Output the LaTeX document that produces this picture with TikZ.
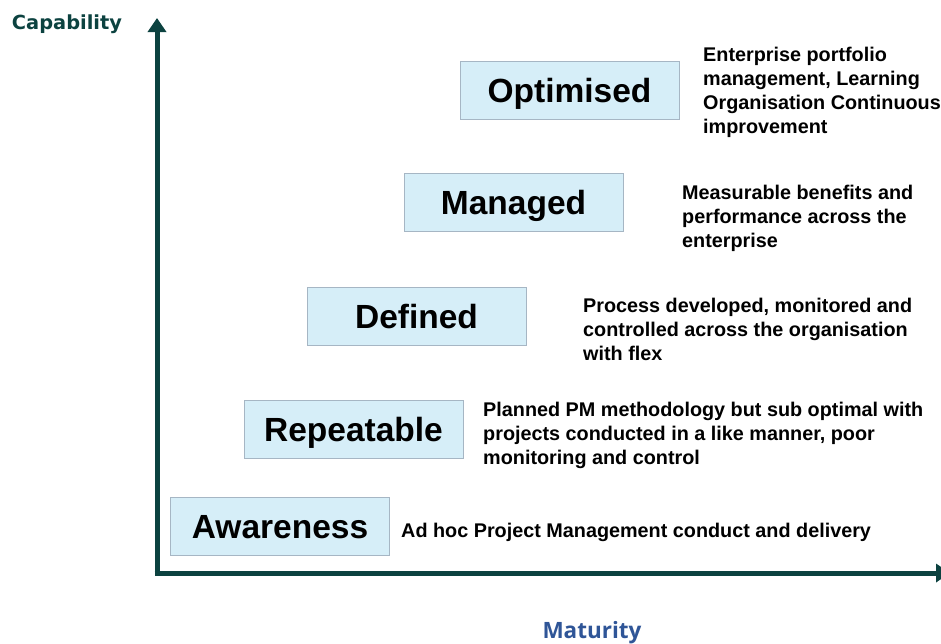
\documentclass[tikz,border=0pt]{standalone}
\usepackage{fontspec}
\setmainfont{Liberation Sans}
\newfontfamily\capfont{DejaVu Sans}
\newfontfamily\matfont{Open Sans}
\usetikzlibrary{arrows.meta}
\definecolor{axisteal}{RGB}{12,66,64}
\definecolor{levelfill}{RGB}{214,238,248}
\definecolor{levelborder}{RGB}{166,182,196}
\definecolor{matblue}{RGB}{47,85,151}
\begin{document}
\begin{tikzpicture}[
    x=1pt, y=-1pt,
    level/.style={rectangle, draw=levelborder, fill=levelfill, minimum width=219pt, minimum height=58pt, inner sep=0pt, text height=24.5pt, text depth=0pt, font=\fontsize{33.5}{40}\selectfont\bfseries},
    desc/.style={anchor=north west, inner sep=0pt, align=left, font=\fontsize{19.8}{24}\selectfont\bfseries},
    axis/.style={line width=5pt, draw=axisteal, -{Triangle[length=14pt,width=18pt]}}
]
    \useasboundingbox (0,0) rectangle (941,643);

    % Axes
    \coordinate (origin) at (157,573);
    \coordinate (ytip) at (157,18);
    \coordinate (xtip) at (950,573);
    \draw [axis] ([yshift=2.5pt]origin) -- (ytip);
    \draw [axis] ([xshift=-2.5pt]origin) -- (xtip);
    \node [font=\capfont\fontsize{19.4}{23}\selectfont\bfseries, text=axisteal] (capability) at (67,24) {Capability};
    \node [font=\matfont\fontsize{22.5}{27}\selectfont\bfseries, text=matblue] (maturity) at (592,633) {Maturity};

    % Levels
    \node [level] (awareness) at (280,526) {Awareness};
    \node [level] (repeatable) at (353.5,429.5) {Repeatable};
    \node [level] (defined) at (416.5,316) {Defined};
    \node [level] (managed) at (513.5,202.5) {Managed};
    \node [level] (optimised) at (569.5,90) {Optimised};

    % Descriptions
    \node [desc] (awarenesstext) at (401,523) {Ad hoc Project Management conduct and delivery};
    \node [desc] (repeatabletext) at (483,402) {Planned PM methodology but sub optimal with\\projects conducted in a like manner, poor\\monitoring and control};
    \node [desc] (definedtext) at (583,298) {Process developed, monitored and\\controlled across the organisation\\with flex};
    \node [desc] (managedtext) at (682,185) {Measurable benefits and\\performance across the\\enterprise};
    \node [desc] (optimisedtext) at (703,47) {Enterprise portfolio\\management, Learning\\Organisation Continuous\\improvement};
\end{tikzpicture}
\end{document}
